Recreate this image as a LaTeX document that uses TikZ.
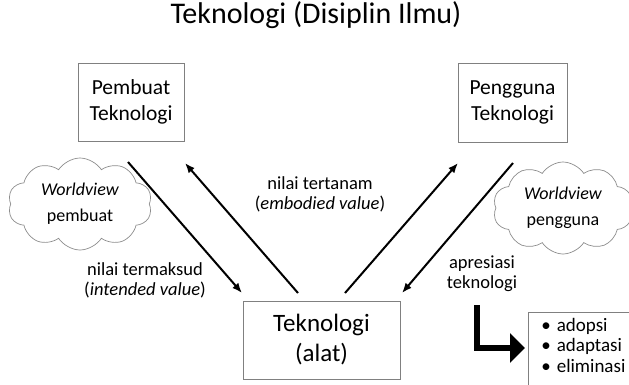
\documentclass[tikz,border=0pt]{standalone}
\usepackage{fontspec}
\setmainfont{Carlito}
\usetikzlibrary{positioning}
\usetikzlibrary{shapes.symbols, arrows.meta}

\begin{document}
\begin{tikzpicture}[x=1pt,y=-1pt,
  kotak/.style={draw=black!50,line width=0.8pt,rectangle,align=center,inner sep=0pt},
  awan/.style={draw=black!45,line width=0.7pt,cloud,cloud puffs=10,cloud puff arc=115,aspect=1.6,inner sep=0pt,align=center,font=\fontsize{18}{26}\selectfont},
  panah/.style={line width=2pt,-{Latex[length=10pt,width=8pt]}},
  teks/.style={align=center,font=\fontsize{18.5}{20}\selectfont}]
\useasboundingbox (0,0) rectangle (629,384);
\clip (0,0) rectangle (629,384);

\node[font=\fontsize{30}{32}\selectfont, anchor=base] (judul) at (316,23) {Teknologi (Disiplin Ilmu)};

% kotak-kotak
\node[kotak,minimum width=106,minimum height=78,font=\fontsize{21.5}{26}\selectfont] (pembuat) at (131,102) {Pembuat\\Teknologi};
\node[kotak,minimum width=109,minimum height=79,font=\fontsize{21.5}{26}\selectfont] (pengguna) at (512.5,102.5) {Pengguna\\Teknologi};
\node[kotak,minimum width=157,minimum height=78,font=\fontsize{25}{30}\selectfont] (alat) at (321.5,340) {Teknologi\\(alat)};

% awan
\node[awan,minimum width=144,minimum height=92] (awankiri) at (80,204) {\textit{Worldview}\\pembuat};
\node[awan,minimum width=140,minimum height=92] (awankanan) at (563,208) {\textit{Worldview}\\pengguna};

% ujung panah
\coordinate (a1) at (128,162);
\coordinate (a1e) at (242,293);
\coordinate (a2) at (298,293);
\coordinate (a2e) at (185,163);
\coordinate (a3) at (345,293);
\coordinate (a3e) at (458,163);
\coordinate (a4) at (513,163);
\coordinate (a4e) at (402,293);
\draw[panah] (a1) -- (a1e);
\draw[panah] (a2) -- (a2e);
\draw[panah] (a3) -- (a3e);
\draw[panah] (a4) -- (a4e);

\node[teks] (termaksud) at (145,280) {nilai termaksud\\(\textit{intended value})};
\node[teks] (tertanam) at (320,194) {nilai tertanam\\(\textit{embodied value})};
\node[teks] (apresiasi) at (482,274) {apresiasi\\teknologi};

% daftar
\node[kotak,anchor=north west,align=left,inner xsep=8pt,inner ysep=5.5pt,text depth=12pt,minimum width=110,font=\fontsize{19}{20.5}\selectfont] (daftar) at (528,312)
  {\textbullet\hspace{6pt}adopsi\\\textbullet\hspace{6pt}adaptasi\\\textbullet\hspace{6pt}eliminasi};
\coordinate (lmulai) at (477,305);
\coordinate (lakhir) at (525,348);
\draw[line width=6pt,-{Triangle[length=15pt,width=29pt]}] (lmulai) |- (lakhir);

\end{tikzpicture}
\end{document}
